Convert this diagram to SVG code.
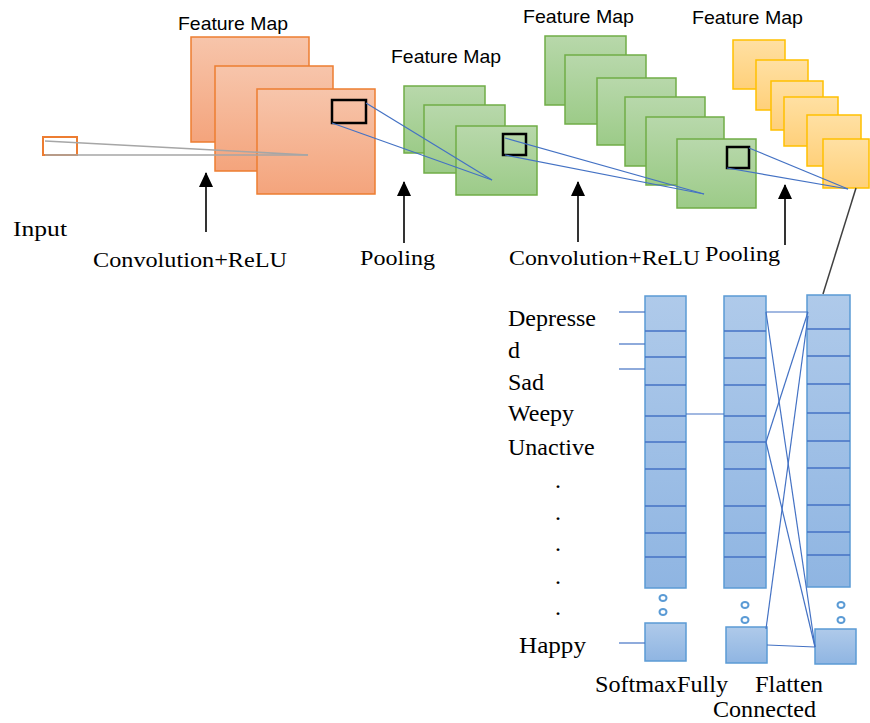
<svg xmlns="http://www.w3.org/2000/svg" width="870" height="723" viewBox="0 0 870 723">
  <defs>
    <linearGradient id="gOrange" x1="0" y1="0" x2="0" y2="1">
      <stop offset="0" stop-color="#f7c5ab"/>
      <stop offset="1" stop-color="#f4a47c"/>
    </linearGradient>
    <linearGradient id="gGreen" x1="0" y1="0" x2="0" y2="1">
      <stop offset="0" stop-color="#b8d8ab"/>
      <stop offset="1" stop-color="#9ccb88"/>
    </linearGradient>
    <linearGradient id="gYellow" x1="0" y1="0" x2="0" y2="1">
      <stop offset="0" stop-color="#ffe0a3"/>
      <stop offset="1" stop-color="#ffd07a"/>
    </linearGradient>
    <linearGradient id="gBlue" x1="0" y1="0" x2="0" y2="1">
      <stop offset="0" stop-color="#afcaea"/>
      <stop offset="1" stop-color="#8fb5e2"/>
    </linearGradient>
    <!-- filled triangular head, drawn along +x; reversed at the start of a line -->
    <marker id="arrowHead" viewBox="0 0 15 14" refX="14" refY="7" markerWidth="15" markerHeight="14" markerUnits="userSpaceOnUse" orient="auto-start-reverse">
      <path d="M0,0 L15,7 L0,14 Z" fill="#000"/>
    </marker>
    <style>
      .orange { fill: url(#gOrange); stroke: #ed7d31; stroke-width: 1.5; }
      .green { fill: url(#gGreen); stroke: #70ad47; stroke-width: 1.5; }
      .yellow { fill: url(#gYellow); stroke: #ffc000; stroke-width: 1.5; }
      .blue { fill: url(#gBlue); stroke: #5b9bd5; stroke-width: 1.5; }
      .rowline { stroke: #4472c4; stroke-width: 1.5; }
      .focus { fill: none; stroke: #000; stroke-width: 2.5; }
      .link { stroke: #4472c4; stroke-width: 1.2; fill: none; }
      .gray { stroke: #a6a6a6; stroke-width: 1.5; fill: none; }
      .ring { fill: none; stroke: #5b9bd5; stroke-width: 2; }
      .up { stroke: #000; stroke-width: 1.6; marker-start: url(#arrowHead); }
      .sans { font-family: "Liberation Sans", Arial, sans-serif; font-size: 19px; fill: #000; }
      .serif { font-family: "Liberation Serif", "Times New Roman", serif; font-size: 22px; fill: #000; }
      .serifL { font-family: "Liberation Serif", "Times New Roman", serif; font-size: 24px; fill: #000; }
    </style>
  </defs>

  <!-- input patch -->
  <g id="input">
    <rect x="43" y="137" width="34" height="18" fill="#fff" stroke="#ed7d31" stroke-width="2"/>
    <text class="serif" x="13" y="236" textLength="54" lengthAdjust="spacingAndGlyphs">Input</text>
  </g>

  <!-- first convolution feature maps -->
  <g id="conv1">
    <text class="sans" x="178" y="30" textLength="110" lengthAdjust="spacingAndGlyphs">Feature Map</text>
    <rect class="orange" x="191" y="37" width="118" height="105"/>
    <rect class="orange" x="215" y="66" width="118" height="105"/>
    <rect class="orange" x="257" y="89" width="118" height="105"/>
    <rect class="focus" x="332" y="100" width="34" height="23"/>
  </g>

  <!-- first pooling feature maps -->
  <g id="pool1">
    <text class="sans" x="391" y="63" textLength="110" lengthAdjust="spacingAndGlyphs">Feature Map</text>
    <rect class="green" x="404" y="86" width="81" height="67"/>
    <rect class="green" x="424" y="105" width="81" height="68"/>
    <rect class="green" x="456" y="126" width="81" height="69"/>
    <rect class="focus" x="503" y="134" width="23" height="21"/>
  </g>

  <!-- second convolution feature maps -->
  <g id="conv2">
    <text class="sans" x="523" y="23" textLength="111" lengthAdjust="spacingAndGlyphs">Feature Map</text>
    <rect class="green" x="545" y="36" width="81" height="69"/>
    <rect class="green" x="565" y="55" width="81" height="69"/>
    <rect class="green" x="597" y="78" width="79" height="67"/>
    <rect class="green" x="625" y="97" width="80" height="69"/>
    <rect class="green" x="646" y="117" width="78" height="68"/>
    <rect class="green" x="677" y="139" width="79" height="69"/>
    <rect class="focus" x="727" y="147" width="22" height="21"/>
  </g>

  <!-- second pooling feature maps -->
  <g id="pool2">
    <text class="sans" x="692" y="24" textLength="111" lengthAdjust="spacingAndGlyphs">Feature Map</text>
    <rect class="yellow" x="733" y="40" width="52" height="49"/>
    <rect class="yellow" x="756" y="60" width="52" height="50"/>
    <rect class="yellow" x="771" y="81" width="52" height="49"/>
    <rect class="yellow" x="784" y="97" width="54" height="49"/>
    <rect class="yellow" x="807" y="115" width="54" height="51"/>
    <rect class="yellow" x="823" y="139" width="46" height="49"/>
  </g>

  <!-- stage arrows and labels -->
  <g id="stage-labels">
    <line class="up" x1="206" y1="173" x2="206" y2="232"/>
    <line class="up" x1="404" y1="182" x2="404" y2="243"/>
    <line class="up" x1="578" y1="182" x2="578" y2="242"/>
    <line class="up" x1="785" y1="185" x2="785" y2="245"/>
    <text class="serif" x="93" y="267" textLength="194" lengthAdjust="spacingAndGlyphs">Convolution+ReLU</text>
    <text class="serif" x="360" y="265" textLength="75" lengthAdjust="spacingAndGlyphs">Pooling</text>
    <text class="serif" x="509" y="265" textLength="191" lengthAdjust="spacingAndGlyphs">Convolution+ReLU</text>
    <text class="serif" x="705" y="261" textLength="75" lengthAdjust="spacingAndGlyphs">Pooling</text>
  </g>

  <!-- softmax column -->
  <g id="softmax">
    <rect class="blue" x="645" y="296" width="41" height="292"/>
    <g class="rowline">
      <line x1="645" y1="331" x2="686" y2="331"/>
      <line x1="645" y1="357" x2="686" y2="357"/>
      <line x1="645" y1="385" x2="686" y2="385"/>
      <line x1="645" y1="416" x2="686" y2="416"/>
      <line x1="645" y1="442" x2="686" y2="442"/>
      <line x1="645" y1="469" x2="686" y2="469"/>
      <line x1="645" y1="506" x2="686" y2="506"/>
      <line x1="645" y1="533" x2="686" y2="533"/>
      <line x1="645" y1="557" x2="686" y2="557"/>
    </g>
    <ellipse class="ring" cx="663" cy="598" rx="3.5" ry="3"/>
    <ellipse class="ring" cx="663" cy="612" rx="3.5" ry="3"/>
    <rect class="blue" x="645" y="623" width="41" height="38"/>
    <text class="serifL" x="595" y="692" textLength="133" lengthAdjust="spacingAndGlyphs">SoftmaxFully</text>
  </g>

  <!-- fully connected column -->
  <g id="fully-connected">
    <rect class="blue" x="724" y="296" width="42" height="292"/>
    <g class="rowline">
      <line x1="724" y1="331" x2="766" y2="331"/>
      <line x1="724" y1="358" x2="766" y2="358"/>
      <line x1="724" y1="385" x2="766" y2="385"/>
      <line x1="724" y1="416" x2="766" y2="416"/>
      <line x1="724" y1="442" x2="766" y2="442"/>
      <line x1="724" y1="469" x2="766" y2="469"/>
      <line x1="724" y1="506" x2="766" y2="506"/>
      <line x1="724" y1="533" x2="766" y2="533"/>
      <line x1="724" y1="557" x2="766" y2="557"/>
    </g>
    <ellipse class="ring" cx="745" cy="605" rx="3.5" ry="3"/>
    <ellipse class="ring" cx="745" cy="620" rx="3.5" ry="3"/>
    <rect class="blue" x="726" y="627" width="41" height="36"/>
    <text class="serifL" x="713" y="717" textLength="103" lengthAdjust="spacingAndGlyphs">Connected</text>
  </g>

  <!-- flatten column -->
  <g id="flatten">
    <rect class="blue" x="807" y="295" width="43" height="292"/>
    <g class="rowline">
      <line x1="807" y1="329" x2="850" y2="329"/>
      <line x1="807" y1="356" x2="850" y2="356"/>
      <line x1="807" y1="384" x2="850" y2="384"/>
      <line x1="807" y1="413" x2="850" y2="413"/>
      <line x1="807" y1="441" x2="850" y2="441"/>
      <line x1="807" y1="468" x2="850" y2="468"/>
      <line x1="807" y1="505" x2="850" y2="505"/>
      <line x1="807" y1="532" x2="850" y2="532"/>
      <line x1="807" y1="555" x2="850" y2="555"/>
    </g>
    <ellipse class="ring" cx="841" cy="605" rx="3.5" ry="3"/>
    <ellipse class="ring" cx="841" cy="620" rx="3.5" ry="3"/>
    <rect class="blue" x="815" y="629" width="41" height="35"/>
    <text class="serifL" x="755" y="692" textLength="68" lengthAdjust="spacingAndGlyphs">Flatten</text>
  </g>

  <!-- output class labels -->
  <g id="classes">
    <text class="serifL" x="508" y="326">Depresse</text>
    <text class="serifL" x="508" y="358">d</text>
    <text class="serifL" x="508" y="390">Sad</text>
    <text class="serifL" x="508" y="421">Weepy</text>
    <text class="serifL" x="508" y="455">Unactive</text>
    <g class="serifL" text-anchor="middle">
      <text x="558" y="488">.</text>
      <text x="558" y="520">.</text>
      <text x="558" y="551">.</text>
      <text x="558" y="584">.</text>
      <text x="558" y="615">.</text>
    </g>
    <text class="serifL" x="519" y="653" textLength="67" lengthAdjust="spacingAndGlyphs">Happy</text>
  </g>

  <!-- connectors -->
  <g id="connectors">
    <line class="gray" x1="45" y1="141" x2="308" y2="155"/>
    <line class="gray" x1="45" y1="155" x2="308" y2="155"/>
    <line class="link" x1="366" y1="103" x2="492" y2="180"/>
    <line class="link" x1="332" y1="123" x2="492" y2="180"/>
    <line class="link" x1="505" y1="138" x2="704" y2="194"/>
    <line class="link" x1="505" y1="155" x2="704" y2="194"/>
    <line class="link" x1="749" y1="148" x2="848" y2="189"/>
    <line class="link" x1="727" y1="168" x2="848" y2="189"/>
    <line x1="856" y1="188" x2="823" y2="294" stroke="#404040" stroke-width="1.5"/>
    <line class="link" x1="619" y1="312" x2="645" y2="312"/>
    <line class="link" x1="619" y1="344" x2="645" y2="344"/>
    <line class="link" x1="619" y1="369" x2="645" y2="369"/>
    <line class="link" x1="619" y1="643" x2="645" y2="643"/>
    <line class="link" x1="686" y1="414" x2="724" y2="414"/>
    <line class="link" x1="766" y1="312" x2="808" y2="312"/>
    <line class="link" x1="766" y1="312" x2="815" y2="647"/>
    <line class="link" x1="808" y1="312" x2="766" y2="442"/>
    <line class="link" x1="766" y1="442" x2="815" y2="647"/>
    <line class="link" x1="808" y1="316" x2="766" y2="629"/>
    <line class="link" x1="767" y1="645" x2="815" y2="647"/>
  </g>
</svg>
